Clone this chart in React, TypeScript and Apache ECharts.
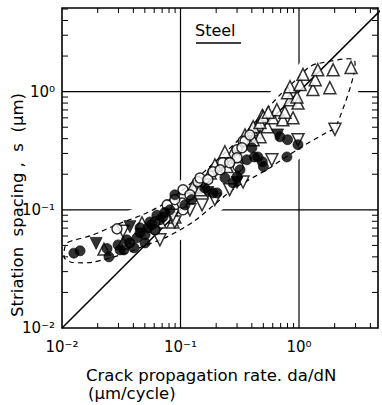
import React, { useEffect, useRef } from "react";
import * as echarts from "echarts";

// ---- data ----
const filledCircles: number[][] = [
  [0.0126, 0.043], [0.0142, 0.045], [0.024, 0.047], [0.0249, 0.04], [0.0309, 0.0458],
  [0.0333, 0.0458], [0.0353, 0.0557], [0.0405, 0.0477], [0.0429, 0.058], [0.0455, 0.064],
  [0.0502, 0.0615], [0.0532, 0.0705], [0.0574, 0.075], [0.0609, 0.0677], [0.067, 0.0823],
  [0.071, 0.087], [0.0738, 0.095], [0.0553, 0.079], [0.0455, 0.0705], [0.0896, 0.134],
  [0.124, 0.122], [0.109, 0.11], [0.188, 0.139], [0.203, 0.139], [0.277, 0.169],
  [0.3, 0.19], [0.318, 0.218], [0.363, 0.265], [0.42, 0.28], [0.45, 0.28],
  [0.5, 0.232], [0.49, 0.255], [0.69, 0.415], [0.8, 0.392], [0.98, 0.356],
  [0.79, 0.28], [0.4, 0.335], [0.0813, 0.1], [0.0374, 0.0525], [0.0502, 0.0525],
  [0.0632, 0.09], [0.16, 0.153], [0.237, 0.186], [0.0297, 0.0505],
];
const openCircles: number[][] = [
  [0.0291, 0.069], [0.0609, 0.079], [0.077, 0.11], [0.105, 0.148], [0.0609, 0.0677],
  [0.105, 0.1], [0.14, 0.173], [0.103, 0.114], [0.337, 0.38], [0.3, 0.322],
  [0.227, 0.25], [0.188, 0.21], [0.306, 0.232], [0.35, 0.38], [0.33, 0.335],
  [0.3, 0.276], [0.26, 0.25], [0.216, 0.218], [0.146, 0.186], [0.0896, 0.122],
  [0.12, 0.134], [0.17, 0.18], [0.385, 0.43],
];
const openUpTriangles: number[][] = [
  [0.0226, 0.0465], [0.0327, 0.0525], [0.0473, 0.0775], [0.0863, 0.079], [0.133, 0.156],
  [0.0896, 0.087], [0.127, 0.156], [0.178, 0.205], [0.247, 0.232], [0.277, 0.305],
  [0.4, 0.43], [0.44, 0.455], [0.45, 0.52], [0.49, 0.63], [0.237, 0.31],
  [0.3, 0.28], [0.4, 0.476], [0.54, 0.505], [0.469, 0.415], [0.41, 0.392],
  [0.41, 0.505], [0.469, 0.547], [0.5, 0.61], [0.6, 0.6], [0.73, 0.579],
  [0.89, 0.6], [0.65, 0.704], [0.84, 0.855], [0.98, 0.8], [0.8, 0.98],
  [0.96, 0.9], [0.84, 1.1], [1.02, 1.15], [1.31, 1.04], [1.37, 1.26],
  [1.82, 1.08], [1.94, 1.53], [2.75, 1.6], [1.08, 1.4], [1.44, 1.53],
  [0.76, 0.67], [0.55, 0.67], [0.35, 0.43], [0.195, 0.24], [0.146, 0.148], [0.067, 0.079],
];
const openDownTriangles: number[][] = [
  [0.0327, 0.066], [0.0896, 0.079], [0.152, 0.11], [0.337, 0.172], [0.59, 0.265],
  [0.98, 0.392], [2.01, 0.48], [0.12, 0.1], [0.067, 0.0557], [0.26, 0.148],
  [0.195, 0.122], [0.0863, 0.09],
];
const filledDownTriangles: number[][] = [
  [0.0194, 0.052], [0.0374, 0.072], [0.66, 0.43], [0.3, 0.17], [0.17, 0.14],
];
// scatter band (dashed envelope)
const envelope: number[][] = [
  [0.0112, 0.053], [0.018, 0.061], [0.029, 0.075], [0.048, 0.091], [0.07, 0.11],
  [0.1, 0.142], [0.15, 0.2], [0.2, 0.26], [0.3, 0.38], [0.5, 0.66], [0.7, 0.95],
  [1.0, 1.33], [1.2, 1.6], [1.4, 1.72], [2.95, 1.82],
  [2.05, 0.5],
  [1.7, 0.45], [1.0, 0.33], [0.54, 0.22], [0.28, 0.15], [0.13, 0.08], [0.077, 0.059],
  [0.048, 0.049], [0.035, 0.043], [0.018, 0.036], [0.012, 0.036], [0.0105, 0.039], [0.0105, 0.047],
];
// s = da/dN reference line
const diagonal: number[][] = [[0.01, 0.01], [10, 10]];

const xMin = 0.01, xMax = 4.64, yMin = 0.01, yMax = 5.1;
const decadeLines = [0.1, 1];
const xMinorTicks = [0.02, 0.03, 0.04, 0.05, 0.06, 0.07, 0.08, 0.09, 0.2, 0.3, 0.4, 0.5, 0.6, 0.7, 0.8, 0.9, 2, 3, 4];
const yMinorTicks = [0.02, 0.03, 0.04, 0.05, 0.06, 0.07, 0.08, 0.09, 0.2, 0.3, 0.4, 0.5, 0.6, 0.7, 0.8, 0.9, 2, 3, 4, 5];
const tickLabels = ["10⁻²", "10⁻¹", "10⁰"]; // for 10^-2, 10^-1, 10^0

const FONT = "DejaVu Sans";

function decadeLabel(v: number): string {
  const l = Math.log10(v);
  const r = Math.round(l);
  if (Math.abs(l - r) > 1e-6) return "";
  return tickLabels[r + 2] ?? "";
}

export default function App() {
  const ref = useRef<HTMLDivElement>(null);
  useEffect(() => {
    const chart = echarts.init(ref.current!, null, { renderer: "svg" });
    const openStyle = { color: "#fff", borderColor: "#000", borderWidth: 1.5 };
    const filledStyle = { color: "#000", borderColor: "#000", borderWidth: 0.8 };
    const option: any = {
      animation: false,
      backgroundColor: "#fff",
      grid: { left: 62, top: 8, right: 4, bottom: 77, containLabel: false },
      xAxis: {
        type: "log", logBase: 10, min: xMin, max: xMax,
        axisLine: { show: false }, axisTick: { show: false }, splitLine: { show: false },
        axisLabel: {
          formatter: decadeLabel, color: "#000", fontFamily: FONT, fontSize: 15, margin: 11,
          showMaxLabel: false,
        },
      },
      yAxis: {
        type: "log", logBase: 10, min: yMin, max: yMax,
        axisLine: { show: false }, axisTick: { show: false }, splitLine: { show: false },
        axisLabel: {
          formatter: decadeLabel, color: "#000", fontFamily: FONT, fontSize: 15, margin: 7,
          showMaxLabel: false,
        },
      },
      graphic: [
        { type: "text", left: 195, top: 22, style: { text: "Steel", fill: "#000", font: `16px "${FONT}"` } },
        { type: "line", shape: { x1: 196, y1: 43, x2: 241, y2: 43 }, style: { stroke: "#000", lineWidth: 1.4 } },
        { type: "text", left: 86, top: 367, style: { text: "Crack propagation rate. da/dN", fill: "#000", font: `16.5px "${FONT}"` } },
        { type: "text", left: 88, top: 385, style: { text: "(μm/cycle)", fill: "#000", font: `16.5px "${FONT}"` } },
        {
          type: "text", x: 17, y: 205, rotation: Math.PI / 2,
          style: {
            text: "Striation  spacing ,  s  (μm)", fill: "#000", font: `16.5px "${FONT}"`,
            align: "center", verticalAlign: "middle",
          },
        },
      ],
      series: [
        {
          type: "custom", name: "grid", z: 1, silent: true,
          data: [[1, 1]],
          renderItem: (params: any, api: any) => {
            const cs = params.coordSys;
            const children: any[] = [];
            decadeLines.forEach((v) => {
              const px = api.coord([v, 1])[0];
              const py = api.coord([1, v])[1];
              children.push({ type: "line", shape: { x1: px, y1: cs.y, x2: px, y2: cs.y + cs.height }, style: { stroke: "#000", lineWidth: 1.2 } });
              children.push({ type: "line", shape: { x1: cs.x, y1: py, x2: cs.x + cs.width, y2: py }, style: { stroke: "#000", lineWidth: 1.2 } });
            });
            return { type: "group", children };
          },
        },
        {
          type: "custom", name: "envelope", z: 2, silent: true,
          data: [[1, 1]],
          renderItem: (params: any, api: any) => {
            const pts = envelope.map((p) => api.coord(p));
            return {
              type: "group",
              children: [
                { type: "polygon", shape: { points: pts, smooth: 0.25 }, style: { fill: "#fff", stroke: "#fff", lineWidth: 18, lineJoin: "round" } },
                { type: "polygon", shape: { points: pts, smooth: 0.25 }, style: { fill: "none", stroke: "#000", lineWidth: 1.2, lineDash: [5, 4] } },
              ],
            };
          },
        },
        {
          type: "line", name: "s = da/dN", z: 3, data: diagonal, showSymbol: false, clip: true,
          lineStyle: { color: "#000", width: 1.5 },
        },
        { type: "scatter", name: "open up", z: 4, data: openUpTriangles, symbol: "triangle", symbolSize: 12, itemStyle: openStyle },
        { type: "scatter", name: "open down", z: 4, data: openDownTriangles, symbol: "triangle", symbolRotate: 180, symbolSize: 12, itemStyle: openStyle },
        { type: "scatter", name: "open circle", z: 4, data: openCircles, symbol: "circle", symbolSize: 10, itemStyle: openStyle },
        { type: "scatter", name: "filled circle", z: 5, data: filledCircles, symbol: "circle", symbolSize: 10, itemStyle: filledStyle },
        { type: "scatter", name: "filled down", z: 5, data: filledDownTriangles, symbol: "triangle", symbolRotate: 180, symbolSize: 12, itemStyle: filledStyle },
        {
          type: "custom", name: "frame", z: 10, silent: true,
          data: [[1, 1]],
          renderItem: (params: any, api: any) => {
            const cs = params.coordSys;
            const b = cs.y + cs.height, r = cs.x + cs.width;
            const children: any[] = [];
            xMinorTicks.forEach((v) => {
              const px = api.coord([v, 1])[0];
              children.push({ type: "line", shape: { x1: px, y1: b, x2: px, y2: b - 5 }, style: { stroke: "#000", lineWidth: 1 } });
              children.push({ type: "line", shape: { x1: px, y1: cs.y, x2: px, y2: cs.y + 5 }, style: { stroke: "#000", lineWidth: 1 } });
            });
            yMinorTicks.forEach((v) => {
              const py = api.coord([1, v])[1];
              children.push({ type: "line", shape: { x1: cs.x, y1: py, x2: cs.x + 6, y2: py }, style: { stroke: "#000", lineWidth: 1 } });
              children.push({ type: "line", shape: { x1: r, y1: py, x2: r - 6, y2: py }, style: { stroke: "#000", lineWidth: 1 } });
            });
            children.push({ type: "rect", shape: { x: cs.x, y: cs.y, width: cs.width, height: cs.height }, style: { fill: "none", stroke: "#000", lineWidth: 1.6 } });
            return { type: "group", children };
          },
        },
      ],
    };
    chart.setOption(option);
    return () => chart.dispose();
  }, []);
  return (
    <div
      ref={ref}
      style={{ position: "fixed", left: 0, top: 0, width: 382, height: 405, background: "#fff" }}
    />
  );
}
